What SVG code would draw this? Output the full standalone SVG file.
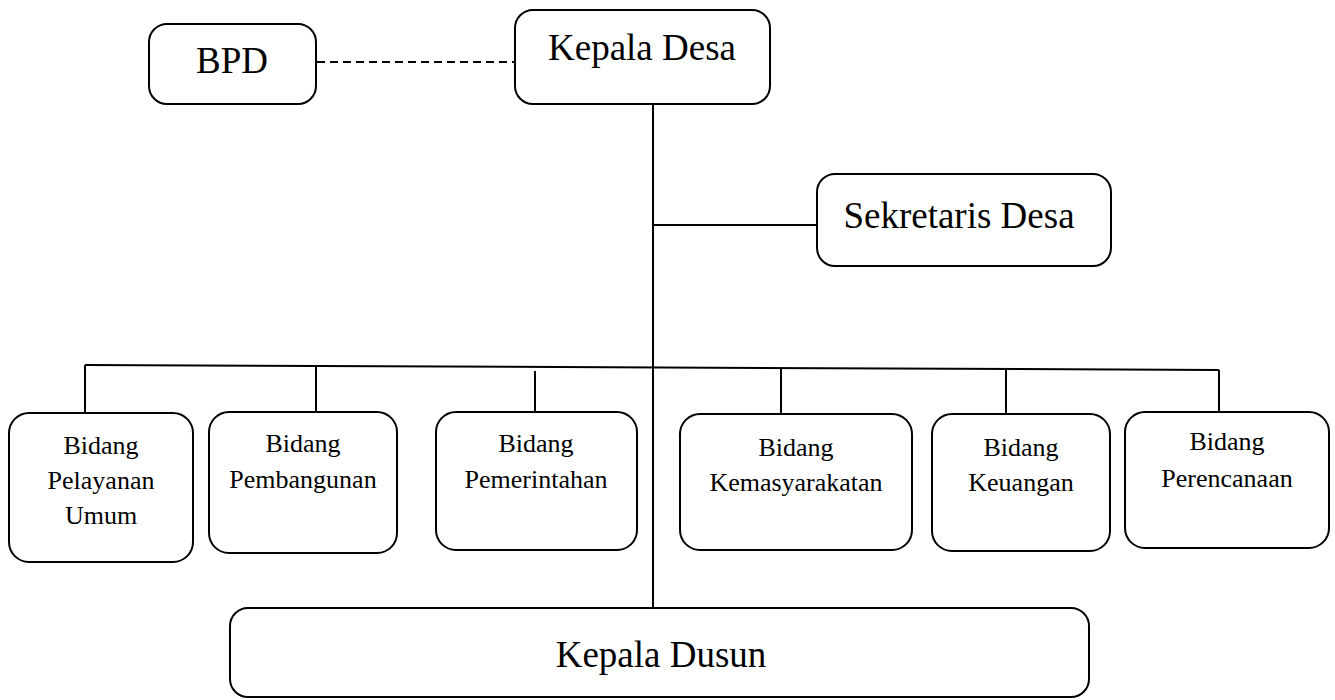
<svg xmlns="http://www.w3.org/2000/svg" width="1335" height="700" viewBox="0 0 1335 700">
<style>
.box{fill:#fff;stroke:#000;stroke-width:2}
.big{font-family:"Liberation Serif","Times New Roman",serif;font-size:37px;fill:#000;text-anchor:middle}
.small{font-family:"Liberation Serif","Times New Roman",serif;font-size:26px;fill:#000;text-anchor:middle}
.ln{stroke:#000;stroke-width:2;fill:none}
.dash{stroke:#000;stroke-width:2;fill:none;stroke-dasharray:8,5}
</style>
<rect width="1335" height="700" fill="#fff"/>
<g id="connectors">
<line class="dash" x1="317" y1="62" x2="514" y2="62"/>
<line class="ln" x1="653" y1="104" x2="653" y2="608"/>
<line class="ln" x1="653" y1="225" x2="817" y2="225"/>
<line class="ln" x1="85" y1="365" x2="1219" y2="370"/>
<line class="ln" x1="85" y1="365" x2="85" y2="413"/>
<line class="ln" x1="316" y1="366" x2="316" y2="412"/>
<line class="ln" x1="535" y1="371" x2="535" y2="412"/>
<line class="ln" x1="781" y1="368" x2="781" y2="414"/>
<line class="ln" x1="1006" y1="369" x2="1006" y2="414"/>
<line class="ln" x1="1219" y1="370" x2="1219" y2="412"/>
</g>
<g id="bpd">
<rect class="box" x="149" y="24" width="167" height="80" rx="18"/>
<text class="big" x="232" y="73">BPD</text>
</g>
<g id="kepala-desa">
<rect class="box" x="515" y="10" width="255" height="94" rx="18"/>
<text class="big" x="642" y="60">Kepala Desa</text>
</g>
<g id="sekretaris-desa">
<rect class="box" x="817" y="174" width="294" height="92" rx="18"/>
<text class="big" x="959" y="228">Sekretaris Desa</text>
</g>
<g id="bidang-pelayanan-umum">
<rect class="box" x="9" y="413" width="184" height="149" rx="20"/>
<text class="small" x="101" y="454">Bidang</text>
<text class="small" x="101" y="489">Pelayanan</text>
<text class="small" x="101" y="524">Umum</text>
</g>
<g id="bidang-pembangunan">
<rect class="box" x="209" y="412" width="188" height="141" rx="20"/>
<text class="small" x="303" y="452">Bidang</text>
<text class="small" x="303" y="488">Pembangunan</text>
</g>
<g id="bidang-pemerintahan">
<rect class="box" x="436" y="412" width="201" height="138" rx="20"/>
<text class="small" x="536" y="452">Bidang</text>
<text class="small" x="536" y="488">Pemerintahan</text>
</g>
<g id="bidang-kemasyarakatan">
<rect class="box" x="680" y="414" width="232" height="136" rx="20"/>
<text class="small" x="796" y="456">Bidang</text>
<text class="small" x="796" y="491">Kemasyarakatan</text>
</g>
<g id="bidang-keuangan">
<rect class="box" x="932" y="414" width="178" height="137" rx="20"/>
<text class="small" x="1021" y="456">Bidang</text>
<text class="small" x="1021" y="491">Keuangan</text>
</g>
<g id="bidang-perencanaan">
<rect class="box" x="1125" y="412" width="204" height="136" rx="20"/>
<text class="small" x="1227" y="450">Bidang</text>
<text class="small" x="1227" y="487">Perencanaan</text>
</g>
<g id="kepala-dusun">
<rect class="box" x="230" y="608" width="859" height="89" rx="18"/>
<text class="big" x="661" y="667">Kepala Dusun</text>
</g>
</svg>
